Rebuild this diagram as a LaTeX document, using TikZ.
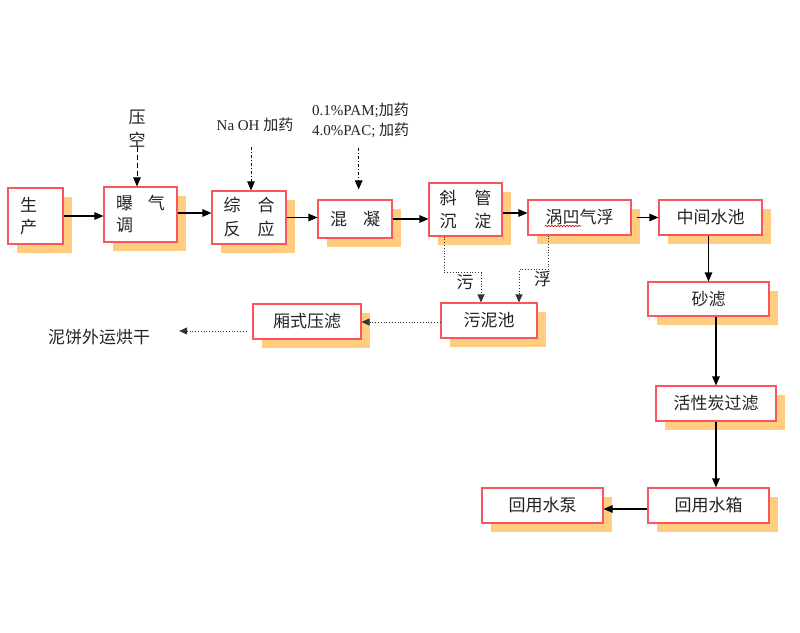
\documentclass[tikz,border=0pt]{standalone}
\usepackage{fontspec}
\setmainfont{Liberation Serif}
\newfontfamily\cjk{Noto Sans CJK SC}
\usetikzlibrary{arrows.meta,shadows,decorations.pathmorphing}
\definecolor{boxred}{RGB}{250,85,90}
\definecolor{shadoworange}{RGB}{255,204,128}
\definecolor{txt}{RGB}{35,35,35}
\begin{document}
\begin{tikzpicture}[x=1pt,y=-1pt,
  proc/.style={draw=boxred,line width=1.1pt,fill=white,text=txt,
    font=\cjk\fontsize{17}{22}\selectfont,inner sep=0pt,
    drop shadow={shadow xshift=8.5pt,shadow yshift=-8.5pt,fill=shadoworange,opacity=1}},
  lbl/.style={text=txt,inner sep=0pt,font=\cjk\fontsize{17}{23}\selectfont},
  latlbl/.style={text=txt,inner sep=0pt,font=\fontsize{15}{20}\selectfont},
  flow/.style={-{Triangle[length=9pt,width=7.5pt]},line width=1.1pt,black},
  dotflow/.style={-{Triangle[length=8pt,width=7pt]},line width=0.8pt,dotted,black!80},
  dashflow/.style={-{Triangle[length=9pt,width=7.5pt]},line width=1pt,black,dash pattern=on 5pt off 3pt},
  dashdotflow/.style={-{Triangle[length=9pt,width=7.5pt]},line width=0.9pt,black,dash pattern=on 3pt off 2pt on 1pt off 2pt},
]
\useasboundingbox (0,0) rectangle (800,632);

% process boxes
\node[proc,minimum width=55pt,minimum height=56pt,text width=31pt,inner xsep=12pt,align=left] (sc) at (35.5,216) {生\\产};
\node[proc,minimum width=73pt,minimum height=55pt,align=left] (bq) at (140.5,214.5) {曝\hspace{15pt}气\\调};
\node[proc,minimum width=74pt,minimum height=53pt,align=left] (zh) at (249,217.5) {综\hspace{17pt}合\\[2pt]反\hspace{17pt}应};
\node[proc,minimum width=74pt,minimum height=38pt] (hn) at (355,219) {混\hspace{16pt}凝};
\node[proc,minimum width=73pt,minimum height=53pt,align=left] (xg) at (465.5,209.5) {斜\hspace{18pt}管\\[1pt]沉\hspace{18pt}淀};
\node[proc,minimum width=103pt,minimum height=35pt] (wa) at (579.5,217.5) {涡凹气浮};
\node[proc,minimum width=103pt,minimum height=35pt] (zj) at (710.5,217.5) {中间水池};
\node[proc,minimum width=121pt,minimum height=34pt] (sl) at (708.5,299) {砂滤};
\node[proc,minimum width=120pt,minimum height=35pt] (hx) at (716,403.5) {活性炭过滤};
\node[proc,minimum width=121pt,minimum height=35pt] (hs) at (708.5,505.5) {回用水箱};
\node[proc,minimum width=121pt,minimum height=35pt] (hb) at (542.5,505.5) {回用水泵};
\node[proc,minimum width=96pt,minimum height=35pt] (wn) at (489,320.5) {污泥池};
\node[proc,minimum width=108pt,minimum height=35pt] (ys) at (307,321.5) {厢式压滤};

% spell-check squiggle under 涡凹
\draw[red!85!black,line width=0.6pt,decorate,decoration={snake,segment length=3pt,amplitude=0.8pt}]
  ([shift={(-34.5,8.5)}]wa.center) -- ([shift={(1.5,8.5)}]wa.center);

% labels
\node[lbl,align=center] (ky) at (137,128.5) {压\\空};
\node[latlbl] (na) at (255,125) {Na OH {\cjk 加药}};
\node[latlbl,align=left,anchor=west] (pam) at (312,120) {0.1\%PAM;{\cjk 加药}\\4.0\%PAC; {\cjk 加药}};
\node[lbl] (nb) at (99,337) {泥饼外运烘干};
\node[lbl] (lw) at (465,282) {污};
\node[lbl] (lf) at (542.5,279) {浮};

% main flow
\draw[flow] (sc.east) -- (sc.east -| bq.west);
\draw[flow] ([yshift=1.5pt]bq.east) -- ([yshift=1.5pt]bq.east -| zh.west);
\draw[flow] (zh.east) -- (zh.east -| hn.west);
\draw[flow] (hn.east) -- (hn.east -| xg.west);
\draw[flow] ([yshift=-3.5pt]xg.east) -- ([yshift=-3.5pt]xg.east -| wa.west);
\draw[flow] ([xshift=5pt]wa.east) -- (zj.west);
\draw[flow] (zj.south -| sl.north) -- (sl.north);
\draw[flow] (sl.south -| hx.north) -- (hx.north);
\draw[flow] (hx.south) -- (hx.south |- hs.north);
\draw[flow] ([yshift=-3.5pt]hs.west) -- ([yshift=-3.5pt]hb.east);

% dosing
\draw[dashflow] (ky.south) -- (ky.south |- bq.north);
\coordinate (na1) at ([shift={(-4,15)}]na.south);
\draw[dashdotflow] (na1) -- (na1 |- zh.north);
\coordinate (pm1) at ([shift={(-2,10.5)}]pam.south);
\coordinate (pm2) at ([yshift=10pt]hn.north);
\draw[dashdotflow] (pm1) -- (pm1 |- pm2);

% sludge lines
\draw[dotflow] ([xshift=-21.5pt]xg.south) -- ++(0,36) -| ([xshift=-8pt]wn.north);
\draw[dotflow] ([xshift=-31.5pt]wa.south) -- ++(0,34) -| ([xshift=30pt]wn.north);
\draw[dotflow] ([yshift=-1.5pt]wn.west) -- ([yshift=-1.5pt]wn.west -| ys.east);
\coordinate (s1) at ([shift={(-6,9.5)}]ys.west);
\coordinate (s2) at ([xshift=29pt]nb.east);
\draw[dotflow] (s1) -- (s1 -| s2);
\end{tikzpicture}
\end{document}
